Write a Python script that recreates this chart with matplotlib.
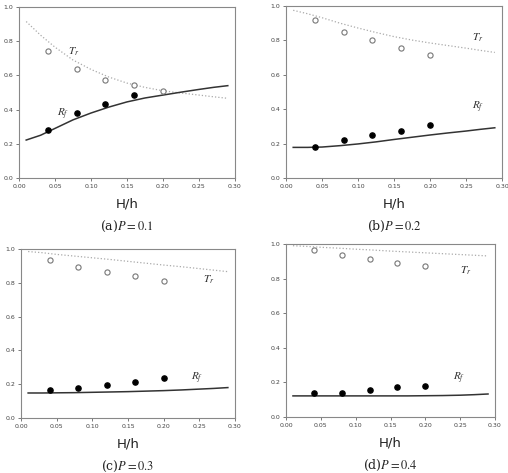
import matplotlib.pyplot as plt
import numpy as np

plt.rcParams['mathtext.fontset'] = 'stix'

# 实验点 x 位置
x_pts = [0.04, 0.08, 0.12, 0.16, 0.20]
# 理论曲线 x 位置
x_line = [0.01, 0.03, 0.05, 0.075, 0.10, 0.125, 0.15, 0.175, 0.20, 0.225, 0.25, 0.27, 0.29]

# (a) P = 0.1
tr_pts_a = [0.745, 0.64, 0.575, 0.545, 0.51]
rf_pts_a = [0.28, 0.38, 0.43, 0.485]
tr_line_a = [0.915, 0.835, 0.765, 0.69, 0.635, 0.59, 0.555, 0.53, 0.51, 0.497, 0.485, 0.475, 0.466]
rf_line_a = [0.222, 0.25, 0.29, 0.34, 0.38, 0.415, 0.445, 0.468, 0.485, 0.502, 0.518, 0.53, 0.54]

# (b) P = 0.2
tr_pts_b = [0.92, 0.85, 0.80, 0.755, 0.715]
rf_pts_b = [0.18, 0.22, 0.248, 0.275, 0.31]
tr_line_b = [0.975, 0.955, 0.932, 0.90, 0.872, 0.846, 0.822, 0.802, 0.785, 0.77, 0.755, 0.742, 0.73]
rf_line_b = [0.178, 0.178, 0.18, 0.188, 0.198, 0.21, 0.224, 0.237, 0.25, 0.262, 0.273, 0.283, 0.292]

# (c) P = 0.3
tr_pts_c = [0.935, 0.895, 0.865, 0.84, 0.81]
rf_pts_c = [0.168, 0.175, 0.195, 0.215, 0.235]
tr_line_c = [0.985, 0.978, 0.968, 0.958, 0.948, 0.938, 0.927, 0.916, 0.905, 0.895, 0.884, 0.875, 0.866]
rf_line_c = [0.148, 0.148, 0.149, 0.150, 0.152, 0.154, 0.156, 0.159, 0.162, 0.166, 0.171, 0.175, 0.18]

# (d) P = 0.4
tr_pts_d = [0.965, 0.935, 0.915, 0.89, 0.87]
rf_pts_d = [0.138, 0.14, 0.155, 0.175, 0.18]
tr_line_d = [0.99, 0.986, 0.981, 0.976, 0.97, 0.965, 0.959, 0.954, 0.949, 0.944, 0.939, 0.935, 0.931]
rf_line_d = [0.122, 0.122, 0.122, 0.122, 0.122, 0.122, 0.122, 0.122, 0.123, 0.124, 0.126, 0.129, 0.133]

captions = ['(a)', '(b)', '(c)', '(d)']
p_values = ['0.1', '0.2', '0.3', '0.4']
xticks = [0.00, 0.05, 0.10, 0.15, 0.20, 0.25, 0.30]
yticks = [0.0, 0.2, 0.4, 0.6, 0.8, 1.0]

panels = [
    (tr_pts_a, rf_pts_a, tr_line_a, rf_line_a),
    (tr_pts_b, rf_pts_b, tr_line_b, rf_line_b),
    (tr_pts_c, rf_pts_c, tr_line_c, rf_line_c),
    (tr_pts_d, rf_pts_d, tr_line_d, rf_line_d),
]

# 各子图位置（像素）：left, right, top, bottom
W, H = 508, 473
boxes = [(19, 235, 7, 178), (286, 502, 6, 178), (21, 235, 249, 418), (286, 495, 244, 417)]
# 标签位置 (Tr x, Tr y, Rf x, Rf y)
label_pos = [(0.068, 0.72, 0.053, 0.36), (0.258, 0.80, 0.258, 0.40),
             (0.255, 0.80, 0.238, 0.22), (0.25, 0.83, 0.24, 0.21)]

fig = plt.figure(figsize=(W / 100, H / 100), dpi=100)

for i, (tr_p, rf_p, tr_l, rf_l) in enumerate(panels):
    l, r, t, b = boxes[i]
    ax = fig.add_axes([l / W, 1 - b / H, (r - l) / W, (b - t) / H])
    ax.plot(x_line, tr_l, linestyle=':', color='#aaaaaa', linewidth=0.9)
    ax.plot(x_line, rf_l, linestyle='-', color='#333333', linewidth=1.1)
    ax.scatter(x_pts, tr_p, s=14, facecolors='white', edgecolors='#777777', linewidths=0.8, zorder=3)
    ax.scatter(x_pts[:len(rf_p)], rf_p, s=14, color='black', zorder=3)

    tx, ty, rx, ry = label_pos[i]
    ax.text(tx, ty, r'$T_r$', fontsize=8, color='#333333')
    ax.text(rx, ry, r'$R_f$', fontsize=8, color='#333333')

    ax.set_xlim(0, 0.30)
    ax.set_ylim(0, 1.0)
    ax.set_xticks(xticks)
    ax.set_xticklabels([f'{v:.2f}' for v in xticks])
    ax.set_yticks(yticks)
    ax.set_yticklabels([f'{v:.1f}' for v in yticks])
    ax.tick_params(labelsize=4.5, length=2, width=0.5, colors='#444444', pad=2)
    for sp in ax.spines.values():
        sp.set_color('#888888')
        sp.set_linewidth(0.8)

    cx = (l + r) / 2 / W
    hy = 1 - (b + 26) / H
    fig.text(cx, hy, 'H/h', ha='center', va='center', fontsize=9.5, color='#222222')
    cy = 1 - (b + 48) / H
    fig.text(cx, cy, captions[i] + r'$P = ' + p_values[i] + '$', ha='center', va='center',
             fontsize=9, family='serif', color='#222222')

fig.savefig('out.png', dpi=100)
